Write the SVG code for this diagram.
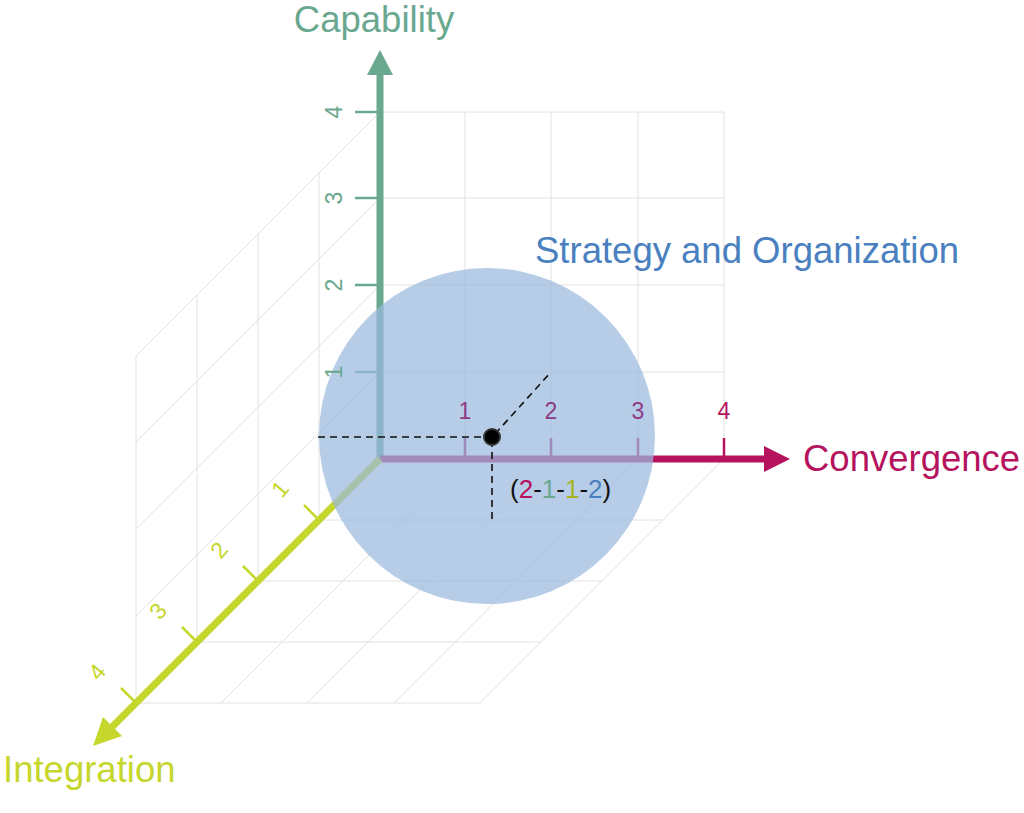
<svg xmlns="http://www.w3.org/2000/svg" width="1024" height="813" viewBox="0 0 1024 813">
<style>
.g{stroke:#e2e2e2;stroke-width:1;fill:none}
.d{stroke:#111;stroke-width:1.6;stroke-dasharray:7,5;fill:none}
text{font-family:"Liberation Sans",Arial,sans-serif}
.cap{fill:#6aa88f}.con{fill:#b5135e}.int{fill:#c5d62c}.str{fill:#4a7fc0}
</style>
<rect width="1024" height="813" fill="#fff"/>
<g id="grid">
<path class="g" d="M380,112H724M380,198H724M380,285H724M380,372H724M465,112V459M551,112V459M638,112V459M724,112V459"/>
<path class="g" d="M319,520H663M258,581H602M197,642H541M136,703H480M465,459L221,703M551,459L307,703M638,459L394,703M724,459L480,703"/>
<path class="g" d="M319,173V520M258,234V581M197,295V642M136,356V703M380,112L136,356M380,198L136,442M380,285L136,529M380,372L136,616"/>
</g>
<g id="connectors">
<line x1="380" y1="459" x2="380" y2="72" stroke="#6aa88f" stroke-width="7"/>
<polygon points="380,50 367,75 393,75" fill="#6aa88f"/>
<path d="M355,112H380M355,198H380M355,285H380M355,372H380" stroke="#6aa88f" stroke-width="2.5"/>
<line x1="380" y1="459" x2="768" y2="459" stroke="#b5135e" stroke-width="7"/>
<polygon points="790,459 764,446 764,472" fill="#b5135e"/>
<path d="M465,438V459M551,438V459M638,438V459M724,438V459" stroke="#b5135e" stroke-width="2.5"/>
<line x1="380" y1="459" x2="110" y2="729" stroke="#c5d62c" stroke-width="7"/>
<polygon points="93,746 103,717 122,736" fill="#c5d62c"/>
<path d="M319,520L304,505M258,581L243,566M197,642L182,627M136,703L121,688" stroke="#c5d62c" stroke-width="2.5"/>
</g>
<g id="sphere"><circle cx="487" cy="436" r="168" fill="#9ab8de" fill-opacity="0.72"/></g>
<g id="point">
<path class="d" d="M318,437H490M492,440V522M495,434L551,372"/>
<circle cx="492" cy="437" r="8" fill="#000" stroke="#333" stroke-width="2"/>
</g>
<g id="labels" font-size="23">
<text class="cap" transform="translate(342,112) rotate(-90)" text-anchor="middle">4</text>
<text class="cap" transform="translate(342,198) rotate(-90)" text-anchor="middle">3</text>
<text class="cap" transform="translate(342,285) rotate(-90)" text-anchor="middle">2</text>
<text class="cap" transform="translate(342,372) rotate(-90)" text-anchor="middle">1</text>
<text fill="#8e3a85" x="465" y="419" text-anchor="middle">1</text>
<text fill="#8e3a85" x="551" y="419" text-anchor="middle">2</text>
<text fill="#8e3a85" x="638" y="419" text-anchor="middle">3</text>
<text class="con" x="724" y="419" text-anchor="middle">4</text>
<text class="int" transform="translate(286,494) rotate(-50)" text-anchor="middle">1</text>
<text class="int" transform="translate(225,555) rotate(-50)" text-anchor="middle">2</text>
<text class="int" transform="translate(164,616) rotate(-50)" text-anchor="middle">3</text>
<text class="int" transform="translate(103,677) rotate(-50)" text-anchor="middle">4</text>
<text x="510" y="498" fill="#111" font-size="26">(<tspan class="con">2</tspan>-<tspan class="cap">1</tspan>-<tspan fill="#a8b41f">1</tspan>-<tspan class="str">2</tspan>)</text>
</g>
<g id="titles" font-size="36.5">
<text class="cap" x="374" y="32" text-anchor="middle">Capability</text>
<text class="con" x="803" y="471">Convergence</text>
<text class="int" x="3" y="782">Integration</text>
<text class="str" x="535" y="263">Strategy and Organization</text>
</g>
</svg>
